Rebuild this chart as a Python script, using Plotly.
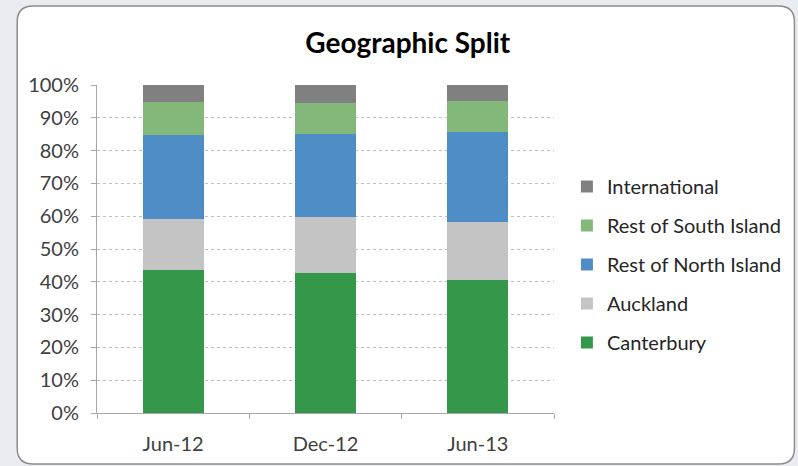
import plotly.graph_objects as go

periods = ["Jun-12", "Dec-12", "Jun-13"]

canterbury = [43.5, 42.8, 40.6]
auckland = [15.6, 17.0, 17.7]
rest_north = [25.7, 25.4, 27.4]
rest_south = [10.1, 9.4, 9.5]
international = [5.1, 5.4, 4.8]

series = [
    ("Canterbury", canterbury, "#35974a"),
    ("Auckland", auckland, "#c4c4c4"),
    ("Rest of North Island", rest_north, "#4f8dc6"),
    ("Rest of South Island", rest_south, "#84b87b"),
    ("International", international, "#808080"),
]

W, H = 798, 466
L, R, T, B = 97, 243, 85, 53
pw, ph = W - L - R, H - T - B


def px(x, y):
    # pixel -> paper coords
    return (x - L) / pw, (H - B - y) / ph


fig = go.Figure()
for i, (name, vals, col) in enumerate(series):
    fig.add_trace(go.Bar(
        x=periods, y=vals, name=name,
        marker_color=col, marker_line_width=0,
        legendgroup=name, legendrank=1000 - i,
    ))

# rounded frame around the chart
x0, y0, x1, y1, r = 17, 6, 796, 464, 16
pts = [
    ("M", x0 + r, y0), ("L", x1 - r, y0), ("Q", x1, y0, x1, y0 + r),
    ("L", x1, y1 - r), ("Q", x1, y1, x1 - r, y1), ("L", x0 + r, y1),
    ("Q", x0, y1, x0, y1 - r), ("L", x0, y0 + r), ("Q", x0, y0, x0 + r, y0),
]
path = ""
for p in pts:
    cmd, coords = p[0], p[1:]
    xy = []
    for i in range(0, len(coords), 2):
        a, b = px(coords[i], coords[i + 1])
        xy.append(f"{a:.5f},{b:.5f}")
    path += cmd + " ".join(xy) + " "
path += "Z"

fig.add_shape(type="path", path=path, xref="paper", yref="paper",
              line=dict(color="#8c8c8c", width=1.5), fillcolor="white",
              layer="below")

fig.update_layout(
    width=W, height=H,
    margin=dict(l=L, r=R, t=T, b=B),
    barmode="stack",
    bargap=0.6,
    paper_bgcolor="#e9edf2",
    plot_bgcolor="rgba(0,0,0,0)",
    font=dict(family="Lato", size=20, color="#595959"),
    title=dict(text="<b>Geographic Split</b>", x=0.511, xanchor="center",
               y=0.908, yanchor="middle",
               font=dict(family="Lato", size=28, color="#000000")),
    legend=dict(
        x=1.026, y=0.75, xanchor="left", yanchor="top",
        traceorder="grouped", tracegroupgap=10,
        font=dict(size=20, color="#262626"),
        itemwidth=30, bgcolor="rgba(0,0,0,0)",
    ),
    showlegend=True,
)

fig.update_xaxes(
    showline=True, linecolor="#a6a6a6", linewidth=1,
    ticks="outside", ticklen=5, tickcolor="#a6a6a6",
    tickson="boundaries", showgrid=False,
    ticklabelstandoff=13,
    tickfont=dict(size=20, color="#404040"),
)
fig.update_yaxes(
    range=[0, 100], dtick=10, ticksuffix="%",
    showline=True, linecolor="#a6a6a6", linewidth=1,
    ticks="outside", ticklen=5, tickcolor="#a6a6a6",
    showgrid=True, gridcolor="#bfbfbf", griddash="3px,3px",
    zeroline=False, ticklabelstandoff=8,
    tickfont=dict(size=20, color="#404040"),
)

fig.write_html("out.html", config={"displayModeBar": False},
               post_script="document.body.style.margin='0';")
